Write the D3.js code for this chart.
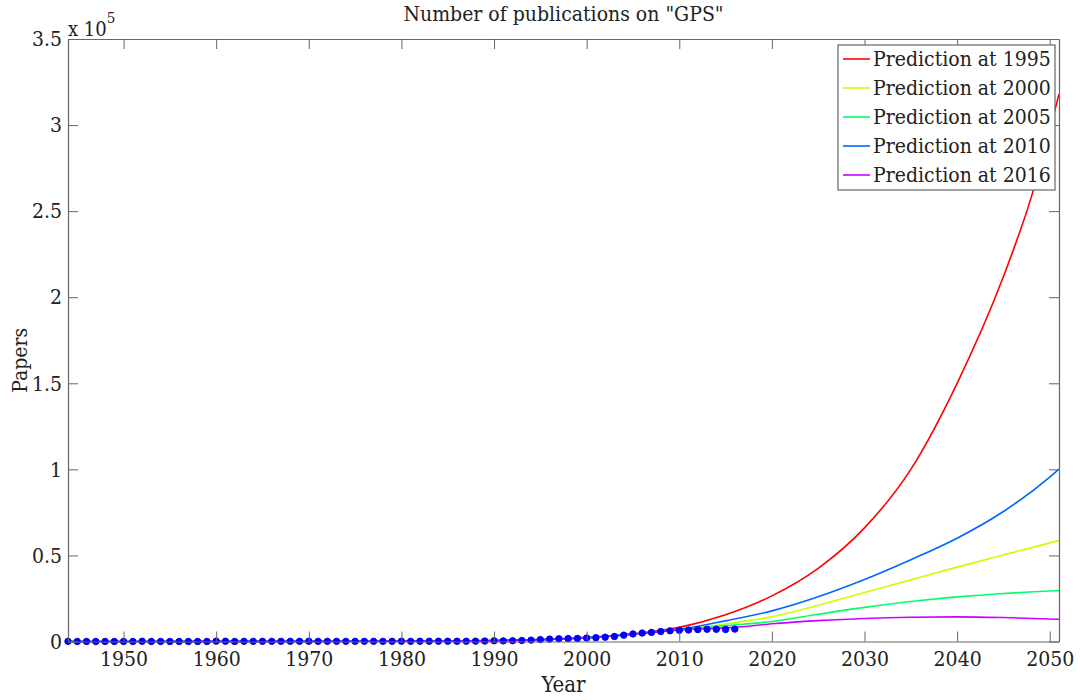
<!DOCTYPE html>
<html>
<head>
<meta charset="utf-8">
<script src="https://cdn.jsdelivr.net/npm/d3@7"></script>
<style>
  html, body { margin: 0; padding: 0; background: #fff; }
  svg text { font-family: "DejaVu Serif", serif; font-stretch: condensed; fill: #222; }
</style>
</head>
<body>
<svg id="chart" width="1080" height="700"></svg>
<script>
// Observed yearly publication counts
const years = [1944,1945,1946,1947,1948,1949,1950,1951,1952,1953,1954,1955,1956,1957,1958,1959,
  1960,1961,1962,1963,1964,1965,1966,1967,1968,1969,1970,1971,1972,1973,1974,1975,1976,1977,1978,1979,
  1980,1981,1982,1983,1984,1985,1986,1987,1988,1989,1990,1991,1992,1993,1994,1995,1996,1997,1998,1999,
  2000,2001,2002,2003,2004,2005,2006,2007,2008,2009,2010,2011,2012,2013,2014,2015,2016];
const papers = [100,0,0,0,0,0,0,0,150,0,0,0,0,0,0,0,
  200,150,0,100,100,100,100,100,100,100,150,100,100,100,100,100,100,100,100,100,
  150,100,150,150,150,150,150,150,200,250,400,350,450,600,800,1100,1400,1600,1700,1800,
  2000,2200,2500,2900,3700,4400,4900,5300,5800,6200,6500,6700,6900,7100,7100,7000,7200];

// Model predictions fitted at different years
const pred1995Years = [1944,1960,1975,1985,1990,1995,2000,2005,2010,2015,2020,2025,2030,2035,2040,2045,2048,2051];
const pred1995 = [0,50,150,300,500,1200,2400,4500,8200,15500,26500,42500,66000,100000,150000,212000,258000,318000];

const pred2000Years = [1944,1960,1975,1985,1990,1995,2000,2005,2010,2015,2020,2025,2030,2035,2040,2045,2050,2051];
const pred2000 = [0,50,150,300,500,1100,2200,4300,6900,10200,14400,21000,28500,35800,43200,50300,57300,58800];

const pred2005Years = [1944,1960,1975,1985,1990,1995,2000,2005,2010,2015,2020,2025,2030,2035,2040,2045,2050,2051];
const pred2005 = [0,50,150,300,500,1100,2200,4300,6900,9200,11600,15800,19800,23200,25900,27900,29300,29500];

const pred2010Years = [1944,1960,1975,1985,1990,1995,2000,2005,2010,2015,2020,2025,2030,2035,2040,2045,2050,2051];
const pred2010 = [0,50,150,300,500,1100,2200,4300,7000,12000,17800,26000,36000,47500,60000,75500,95500,100200];

const pred2016Years = [1944,1960,1975,1985,1990,1995,2000,2005,2010,2016,2020,2025,2030,2035,2040,2045,2050,2051];
const pred2016 = [0,50,150,300,500,1100,2200,4300,6700,8200,10300,12100,13400,14100,14300,13900,13100,12900];

const seriesNames = ["Prediction at 1995","Prediction at 2000","Prediction at 2005","Prediction at 2010","Prediction at 2016"];
const seriesColors = ["#ff0000","#ccff00","#00ff66","#0066ff","#cc00ff"];

const xTicks = [1950,1960,1970,1980,1990,2000,2010,2020,2030,2040,2050];
const yTicks = [0,50000,100000,150000,200000,250000,300000,350000];
const yTickLabels = ["0","0.5","1","1.5","2","2.5","3","3.5"];

const predictions = [
  {years: pred1995Years, values: pred1995},
  {years: pred2000Years, values: pred2000},
  {years: pred2005Years, values: pred2005},
  {years: pred2010Years, values: pred2010},
  {years: pred2016Years, values: pred2016}
];

const svg = d3.select("#chart");
const margin = {left: 68, right: 21, top: 39, bottom: 58.5};
const W = 1080, H = 700;
const x = d3.scaleLinear().domain([1944, 2051]).range([margin.left, W - margin.right]);
const y = d3.scaleLinear().domain([0, 350000]).range([H - margin.bottom, margin.top]);

const axisColor = "#666";
const fontSize = 21;

// Prediction curves
const line = d3.line().curve(d3.curveMonotoneX);
predictions.forEach((p, i) => {
  svg.append("path")
    .attr("d", line(p.years.map((yr, k) => [x(yr), y(p.values[k])])))
    .attr("fill", "none")
    .attr("stroke", seriesColors[i])
    .attr("stroke-width", 1.6);
});

// Observed data markers
svg.append("g").selectAll("circle")
  .data(years.map((yr, k) => [yr, papers[k]]))
  .join("circle")
  .attr("cx", d => x(d[0]))
  .attr("cy", d => y(d[1]))
  .attr("r", 3.2)
  .attr("fill", "#0000ff")
  .attr("stroke", "#0000ff")
  .attr("stroke-width", 1);

// Axes with inward ticks on all four sides
const xL = x.range()[0], xR = x.range()[1], yB = y.range()[0], yT = y.range()[1];
const axB = svg.append("g").attr("transform", `translate(0,${yB})`)
  .call(d3.axisBottom(x).tickValues(xTicks).tickFormat(d3.format("d")).tickSizeInner(-10).tickSizeOuter(0).tickPadding(10));
const axT = svg.append("g").attr("transform", `translate(0,${yT})`)
  .call(d3.axisTop(x).tickValues(xTicks).tickFormat("").tickSizeInner(-10).tickSizeOuter(0));
const axL = svg.append("g").attr("transform", `translate(${xL},0)`)
  .call(d3.axisLeft(y).tickValues(yTicks).tickFormat((d, i) => yTickLabels[i]).tickSizeInner(-10).tickSizeOuter(0).tickPadding(6));
const axR = svg.append("g").attr("transform", `translate(${xR},0)`)
  .call(d3.axisRight(y).tickValues(yTicks).tickFormat("").tickSizeInner(-10).tickSizeOuter(0));

[axB, axT, axL, axR].forEach(g => {
  g.select(".domain").attr("stroke", axisColor).attr("stroke-width", 1.2);
  g.selectAll(".tick line").attr("stroke", axisColor).attr("stroke-width", 1);
  g.selectAll("text").attr("font-size", fontSize).attr("fill", "#222")
    .attr("font-family", "DejaVu Serif").style("font-stretch", "condensed");
});

// Exponent label
const expo = svg.append("text").attr("x", xL).attr("y", yT - 3).attr("font-size", 20);
expo.append("tspan").text("x 10");
expo.append("tspan").attr("dy", -13).attr("font-size", 15).text("5");

// Title and axis labels
svg.append("text").attr("x", (xL + xR) / 2).attr("y", 21).attr("text-anchor", "middle")
  .attr("font-size", fontSize).text("Number of publications on \"GPS\"");
svg.append("text").attr("x", (xL + xR) / 2).attr("y", 692).attr("text-anchor", "middle")
  .attr("font-size", 22).text("Year");
svg.append("text").attr("transform", `translate(27,${(yB + yT) / 2 + 20}) rotate(-90)`)
  .attr("text-anchor", "middle").attr("font-size", fontSize).text("Papers");

// Legend
const lg = svg.append("g");
const lgX = 838, lgY = 45, lgW = 217, lgH = 145, rowH = 29;
lg.append("rect").attr("x", lgX).attr("y", lgY).attr("width", lgW).attr("height", lgH)
  .attr("fill", "#fff").attr("stroke", axisColor).attr("stroke-width", 1.2);
seriesNames.forEach((name, i) => {
  const cy = lgY + 14 + i * rowH;
  lg.append("line").attr("x1", lgX + 5).attr("x2", lgX + 32).attr("y1", cy).attr("y2", cy)
    .attr("stroke", seriesColors[i]).attr("stroke-width", 1.6);
  lg.append("text").attr("x", lgX + 35).attr("y", cy).attr("dy", "0.35em")
    .attr("font-size", fontSize).text(name);
});
</script>
</body>
</html>
